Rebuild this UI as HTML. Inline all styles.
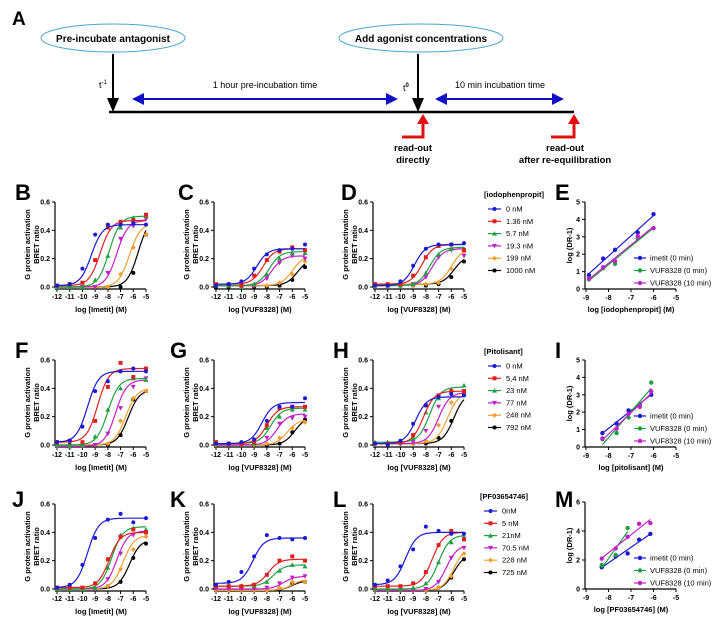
<!DOCTYPE html>
<html><head><meta charset="utf-8"><style>
html,body{margin:0;padding:0;background:#fff;}
svg{display:block;font-family:"Liberation Sans",sans-serif;}
</style></head><body>
<svg id="fig" width="720" height="624" viewBox="0 0 720 624" xmlns="http://www.w3.org/2000/svg">
<defs>
<marker id="ab" markerWidth="6" markerHeight="6" refX="5" refY="3" orient="auto"><path d="M0,0 L6,3 L0,6 z" fill="#1010c8"/></marker>
<marker id="abs" markerWidth="6" markerHeight="6" refX="1" refY="3" orient="auto"><path d="M6,0 L0,3 L6,6 z" fill="#1010c8"/></marker>
</defs>
<g>
<text x="12" y="25" font-size="19" font-weight="bold">A</text>
<ellipse cx="113" cy="38" rx="72" ry="14" fill="none" stroke="#4aa6d0" stroke-width="1"/>
<text x="113" y="42" font-size="10" font-weight="bold" text-anchor="middle">Pre-incubate antagonist</text>
<ellipse cx="421" cy="38" rx="82" ry="14" fill="none" stroke="#4aa6d0" stroke-width="1"/>
<text x="421" y="42" font-size="10" font-weight="bold" text-anchor="middle">Add agonist concentrations</text>
<line x1="109" y1="112" x2="574" y2="112" stroke="#000" stroke-width="2.5"/>
<line x1="113" y1="54" x2="113" y2="102" stroke="#000" stroke-width="2"/>
<path d="M107,98 L119,98 L113,112 z" fill="#000"/>
<line x1="418" y1="54" x2="418" y2="102" stroke="#000" stroke-width="2"/>
<path d="M412,98 L424,98 L418,112 z" fill="#000"/>
<text x="99" y="88" font-size="9">t<tspan font-size="6" dy="-4">-1</tspan></text>
<text x="403" y="91" font-size="9">t<tspan font-size="6" dy="-4" font-weight="bold">0</tspan></text>
<line x1="134" y1="99" x2="396" y2="99" stroke="#1010c8" stroke-width="2" marker-end="url(#ab)" marker-start="url(#abs)"/>
<text x="265" y="88" font-size="9" text-anchor="middle">1 hour pre-incubation time</text>
<line x1="437" y1="99" x2="562" y2="99" stroke="#1010c8" stroke-width="2" marker-end="url(#ab)" marker-start="url(#abs)"/>
<text x="500" y="88" font-size="9" text-anchor="middle">10 min incubation time</text>
<path d="M402,137 L423,137 L423,122" fill="none" stroke="#e01010" stroke-width="3"/>
<path d="M417,124 L429,124 L423,114 z" fill="#e01010"/>
<path d="M551,137 L574,137 L574,122" fill="none" stroke="#e01010" stroke-width="3"/>
<path d="M568,124 L580,124 L574,114 z" fill="#e01010"/>
<text x="413" y="151" font-size="9.5" font-weight="bold" text-anchor="middle">read-out</text>
<text x="413" y="163" font-size="9.5" font-weight="bold" text-anchor="middle">directly</text>
<text x="565" y="151" font-size="9.5" font-weight="bold" text-anchor="middle">read-out</text>
<text x="565" y="163" font-size="9.5" font-weight="bold" text-anchor="middle">after re-equilibration</text>
</g>
<g id="charts"></g>
</svg>
<script>
// ---- dose-response data (log M x values) ----
const doseX = [-12,-11,-10,-9,-8,-7,-6,-5];
const xTicks = [-12,-11,-10,-9,-8,-7,-6,-5];
const yTicks = [0,0.2,0.4,0.6];
const yTickLabels = ["0.0","0.2","0.4","0.6"];
const seriesColors = ["#1a1ad0","#e02020","#20a040","#c020c8","#f0a030","#000000"];
const seriesShapes = ["circle","square","tri","tridown","diamond","circle"];

const B_pts = [[.01,.02,.13,.37,.44,.44,.45,.44],[.01,.02,.03,.19,.42,.46,.47,.51],[0,0,0,.05,.22,.42,.49,.50],[0,0,0,0,.10,.34,.43,.48],[0,0,0,0,0,.09,.28,.37],[0,0,0,0,0,0,.10,.37]];
const B_fit = [[.01,.44,-9.3],[.01,.47,-8.6],[0,.50,-7.9],[0,.47,-7.3],[0,.45,-6.3],[0,.5,-5.6]];
const C_pts = [[.01,.02,.04,.13,.23,.26,.27,.30],[.02,.02,.01,.08,.19,.25,.28,.26],[.01,.01,0,.02,.09,.20,.24,.24],[.01,.01,0,.01,.06,.17,.22,.20],[.01,.01,.01,.01,.01,.03,.09,.18],[0,0,0,0,0,.01,.05,.14]];
const C_fit = [[.02,.27,-8.8],[.02,.27,-8.3],[.01,.25,-7.8],[.01,.22,-7.6],[.01,.22,-6.0],[.01,.2,-5.6]];
const D_pts = [[.01,.01,.04,.15,.27,.30,.30,.31],[.02,.02,.02,.08,.21,.29,.30,.26],[.01,.01,.01,.02,.10,.23,.27,.27],[.01,.01,.01,.02,.07,.21,.26,.22],[.02,.02,.01,.01,.02,.03,.13,.25],[.02,.01,.01,.01,.01,.02,.07,.18]];
const D_fit = [[.01,.3,-8.9],[.02,.3,-8.3],[.01,.28,-7.7],[.01,.27,-7.5],[.02,.27,-6.0],[.02,.22,-5.8]];
const F_pts = [[.02,.03,.13,.38,.45,.52,.54,.52],[.02,.03,.02,.17,.41,.58,.48,.54],[0,-.01,0,.06,.25,.40,.47,.46],[-.01,-.01,-.01,0,.08,.26,.41,.47],[0,.03,0,0,.01,.17,.33,.38],[0,0,0,0,0,.07,.32,.38]];
const F_fit = [[.02,.52,-9.6],[.02,.54,-8.8],[0,.47,-8.0],[-.01,.46,-7.4],[0,.4,-6.6],[0,.39,-6.4]];
const G_pts = [[.01,.01,.02,.04,.17,.27,.27,.33],[.02,.01,.01,.02,.14,.26,.27,.27],[.01,.01,.01,.01,.12,.20,.25,.25],[.01,0,0,.01,.05,.15,.19,.20],[0,0,0,0,.01,.05,.12,.16],[0,0,0,0,0,.01,.09,.18]];
const G_fit = [[.01,.3,-8.4],[.01,.27,-8.0],[.01,.26,-7.7],[0,.22,-7.2],[0,.18,-6.4],[0,.2,-5.8]];
const H_pts = [[.01,0,.03,.15,.28,.34,.36,.35],[.01,.01,.02,.07,.28,.35,.38,.38],[.02,.02,.02,.05,.23,.33,.39,.42],[.01,.01,.01,.02,.10,.27,.37,.38],[.01,.01,.01,.01,.03,.14,.30,.37],[.01,.01,.01,.01,.01,.05,.17,.36]];
const H_fit = [[.01,.34,-8.8],[.01,.38,-8.2],[.02,.41,-7.7],[.01,.37,-7.0],[.01,.37,-6.3],[.01,.37,-5.8]];
const J_pts = [[.01,.03,.17,.36,.49,.53,.47,.50],[.01,.01,.01,.04,.21,.37,.42,.40],[0,0,0,.01,.15,.38,.43,.42],[0,0,0,0,.07,.25,.38,.40],[0,0,0,0,.02,.14,.28,.37],[0,0,0,0,.02,.05,.22,.32]];
const J_fit = [[.01,.5,-9.6],[.01,.4,-7.9],[0,.44,-7.7],[0,.41,-7.3],[0,.38,-6.8],[0,.35,-6.3]];
const K_pts = [[.03,.05,.12,.23,.38,.36,.35,.36],[.02,.02,.02,.03,.10,.20,.23,.20],[.02,.02,.02,.02,.05,.13,.17,.16],[0,0,0,0,.01,.04,.08,.09],[-.01,-.01,-.01,-.01,-.01,.01,.05,.05],[-.01,-.01,-.01,-.01,-.01,0,.04,.05]];
const K_fit = [[.04,.36,-9.1],[.02,.21,-7.9],[.02,.17,-7.5],[0,.09,-6.7],[-.01,.07,-6.0],[-.01,.06,-6.0]];
const L_pts = [[.03,.06,.16,.28,.44,.41,.39,.39],[.02,.02,.02,.04,.12,.31,.41,.35],[0,0,0,.01,.04,.19,.33,.37],[-.01,-.01,-.01,-.01,0,.05,.22,.29],[-.01,-.01,-.01,-.01,-.01,.01,.09,.25],[-.01,-.01,-.01,-.01,-.01,.01,.08,.21]];
const L_fit = [[.03,.4,-9.6],[.02,.4,-7.5],[0,.38,-7.0],[-.01,.31,-6.4],[-.01,.3,-5.8],[-.01,.25,-5.8]];

const legend1 = ["0 nM","1.36 nM","5.7 nM","19.3 nM","199 nM","1000 nM"];
const legend2 = ["0 nM","5,4 nM","23 nM","77 nM","248 nM","792 nM"];
const legend3 = ["0nM","5 nM","21nM","70.5 nM","228 nM","725 nM"];

// ---- Schild data ----
const schildLabels = ["imetit (0 min)","VUF8328 (0 min)","VUF8328 (10 min)"];
const schildColors = ["#1a1ad0","#20a040","#c020c8"];
const E_x = [-8.87,-8.24,-7.71,-6.70,-6.0];
const E_y = [[.8,1.75,2.25,3.25,4.3],[.55,1.2,1.45,2.9,3.5],[.6,1.25,1.6,3.05,3.5]];
const I_x = [-8.27,-7.64,-7.11,-6.61,-6.10];
const I_y = [[.8,1.35,2.1,2.45,3.0],[.45,.8,1.7,2.4,3.7],[.5,1.05,1.9,2.3,3.2]];
const M_x = [-8.3,-7.68,-7.15,-6.64,-6.14];
const M_y = [[1.5,2.25,2.45,3.4,3.8],[1.65,2.35,4.2],[2.1,2.8,3.6,4.5,4.55]];

const NS="http://www.w3.org/2000/svg";
const root=document.getElementById('charts');
function el(tag,attrs,parent){const e=document.createElementNS(NS,tag);for(const k in attrs)e.setAttribute(k,attrs[k]);(parent||root).appendChild(e);return e;}
function txt(x,y,s,size,opts,parent){const t=el('text',Object.assign({x:x,y:y,'font-size':size},opts||{}),parent);t.textContent=s;return t;}

function marker(g,shape,cx,cy,color,r){
  let m;
  if(shape==='circle') m=el('circle',{cx:cx,cy:cy,r:r,fill:color},g);
  else if(shape==='square') m=el('rect',{x:cx-r,y:cy-r,width:2*r,height:2*r,fill:color},g);
  else if(shape==='tri') m=el('path',{d:`M${cx},${cy-r-0.5}L${cx+r+0.5},${cy+r}L${cx-r-0.5},${cy+r}z`,fill:color},g);
  else if(shape==='tridown') m=el('path',{d:`M${cx},${cy+r+0.5}L${cx+r+0.5},${cy-r}L${cx-r-0.5},${cy-r}z`,fill:color},g);
  else m=el('path',{d:`M${cx},${cy-r-0.5}L${cx+r+0.5},${cy}L${cx},${cy+r+0.5}L${cx-r-0.5},${cy}z`,fill:color},g);
  return m;
}

function panelLabel(x,y,s){
  const t=txt(x,y,s,22,{'font-weight':'bold'});
  
  
}

function dosePanel(name,x0,y0,pts,fit,xlabel){
  const g=el('g',{});
  
  
  const xs=v=>x0+(v+12)/7*89;
  const ys=v=>y0-v/0.6*85;
  el('line',{x1:x0-2,y1:y0+1,x2:x0-2,y2:ys(0.6),stroke:'#000','stroke-width':1.2},g);
  el('line',{x1:x0-2,y1:y0+2,x2:xs(-5),y2:y0+2,stroke:'#000','stroke-width':1.2},g);
  yTicks.forEach((v,i)=>{
    el('line',{x1:x0-5,y1:ys(v),x2:x0-2,y2:ys(v),stroke:'#000','stroke-width':1},g);
    txt(x0-7,ys(v)+2.5,yTickLabels[i],7,{'text-anchor':'end','font-weight':'bold'},g);
  });
  xTicks.forEach(v=>{
    el('line',{x1:xs(v),y1:y0+2,x2:xs(v),y2:y0+5,stroke:'#000','stroke-width':1},g);
    txt(xs(v),y0+12,String(v),7,{'text-anchor':'middle','font-weight':'bold'},g);
  });
  const xl=txt(x0+44,y0+25,xlabel,7.5,{'text-anchor':'middle','font-weight':'bold'},g);
  
  
  const yl=el('g',{transform:`translate(${x0-24},${ys(0.3)}) rotate(-90)`},g);
  
  
  txt(0,-3,'G protein activation',7.5,{'text-anchor':'middle','font-weight':'bold'},yl);
  txt(0,6,'BRET ratio',7.5,{'text-anchor':'middle','font-weight':'bold'},yl);
  for(let s=pts.length-1;s>=0;s--){
    const sg=el('g',{},g);
    
    
    const [b,t,ec]=fit[s];
    let d='';
    for(let k=0;k<=70;k++){const lx=-12+k*0.1;const y=b+(t-b)/(1+Math.pow(10,ec-lx));d+=(k?'L':'M')+xs(lx).toFixed(1)+','+ys(y).toFixed(1);}
    el('path',{d:d,fill:'none',stroke:seriesColors[s],'stroke-width':1.2},sg);
    pts[s].forEach((v,i)=>{
      const m=marker(sg,seriesShapes[s],xs(doseX[i]),ys(v),seriesColors[s],2);
      
      
    });
  }
}

function doseLegend(x,y06,title,labels){
  const g=el('g',{});
  
  
  txt(x,y06-5,title,7.5,{'font-weight':'bold'},g);
  labels.forEach((s,i)=>{
    const yy=y06+7+i*12.3;
    const eg=el('g',{},g);
    
    
    el('line',{x1:x+4,y1:yy,x2:x+17,y2:yy,stroke:seriesColors[i],'stroke-width':1.2},eg);
    marker(eg,seriesShapes[i],x+10.5,yy,seriesColors[i],2);
    txt(x+22,yy+2.5,s,7.5,{},eg);
  });
}

function schildPanel(name,y0,ymax,yt,xv,yv,xlabel){
  const g=el('g',{});
  
  
  const x0=586;
  const xs=v=>x0+(v+9)/4*90;
  const ys=v=>y0-v/ymax*87;
  el('line',{x1:x0-1,y1:y0,x2:x0-1,y2:ys(ymax),stroke:'#000','stroke-width':1.2},g);
  el('line',{x1:x0-1,y1:y0,x2:xs(-5),y2:y0,stroke:'#000','stroke-width':1.2},g);
  yt.forEach(v=>{
    el('line',{x1:x0-4,y1:ys(v),x2:x0-1,y2:ys(v),stroke:'#000'},g);
    txt(x0-6,ys(v)+2.5,String(v),7,{'text-anchor':'end','font-weight':'bold'},g);
  });
  [-9,-8,-7,-6,-5].forEach(v=>{
    el('line',{x1:xs(v),y1:y0,x2:xs(v),y2:y0+3,stroke:'#000'},g);
    txt(xs(v),y0+11,String(v),7,{'text-anchor':'middle','font-weight':'bold'},g);
  });
  const xl=txt(x0+45,y0+23,xlabel,7.5,{'text-anchor':'middle','font-weight':'bold'},g);
  
  
  const yl=txt(0,0,'log (DR-1)',7.5,{'text-anchor':'middle','font-weight':'bold',transform:`translate(${x0-14},${ys(ymax/2)}) rotate(-90)`},g);
  
  
  yv.forEach((ser,s)=>{
    const sg=el('g',{},g);
    
    
    const xx=xv.slice(0,ser.length);
    const n=ser.length,mx=xx.reduce((a,b)=>a+b)/n,my=ser.reduce((a,b)=>a+b)/n;
    let sxy=0,sxx=0;xx.forEach((x,i)=>{sxy+=(x-mx)*(ser[i]-my);sxx+=(x-mx)*(x-mx);});
    const sl=sxy/sxx,ic=my-sl*mx;
    el('line',{x1:xs(xx[0]),y1:ys(ic+sl*xx[0]),x2:xs(xx[n-1]),y2:ys(ic+sl*xx[n-1]),stroke:schildColors[s],'stroke-width':1.2},sg);
    ser.forEach((v,i)=>{
      const m=marker(sg,'circle',xs(xx[i]),ys(v),schildColors[s],2.2);
      
      
    });
  });
  schildLabels.forEach((s,i)=>{
    const yy=y0-31+i*12.5;
    const eg=el('g',{},g);
    
    
    el('line',{x1:634,y1:yy,x2:646,y2:yy,stroke:schildColors[i],'stroke-width':1.2},eg);
    marker(eg,'circle',640,yy,schildColors[i],2.2);
    txt(650,yy+2.5,s,7.5,{},eg);
  });
}

// Row 1
panelLabel(15,200,'B');panelLabel(178,200,'C');panelLabel(341,200,'D');panelLabel(555,200,'E');
dosePanel('b',57,287,B_pts,B_fit,'log [Imetit] (M)');
dosePanel('c',216,287,C_pts,C_fit,'log [VUF8328] (M)');
dosePanel('d',375,287,D_pts,D_fit,'log [VUF8328] (M)');
doseLegend(484,202,'[iodophenpropit]',legend1);
schildPanel('e',289,5,[0,1,2,3,4,5],E_x,E_y,'log [iodophenpropit]  (M)');
// Row 2
panelLabel(15,358,'F');panelLabel(170,358,'G');panelLabel(333,358,'H');panelLabel(555,358,'I');
dosePanel('f',57,445,F_pts,F_fit,'log [Imetit] (M)');
dosePanel('g',216,445,G_pts,G_fit,'log [VUF8328] (M)');
dosePanel('h',375,445,H_pts,H_fit,'log [VUF8328] (M)');
doseLegend(484,359,'[Pitolisant]',legend2);
schildPanel('i',447,5,[0,1,2,3,4,5],I_x,I_y,'log [pitolisant]  (M)');
// Row 3
panelLabel(12,507,'J');panelLabel(170,507,'K');panelLabel(333,507,'L');panelLabel(555,507,'M');
dosePanel('j',57,589,J_pts,J_fit,'log [Imetit] (M)');
dosePanel('k',216,589,K_pts,K_fit,'log [VUF8328] (M)');
dosePanel('l',375,589,L_pts,L_fit,'log [VUF8328] (M)');
doseLegend(480,504,'[PF03654746]',legend3);
schildPanel('m',589,6,[0,2,4,6],M_x,M_y,'log [PF03654746] (M)');
</script>
</body></html>
